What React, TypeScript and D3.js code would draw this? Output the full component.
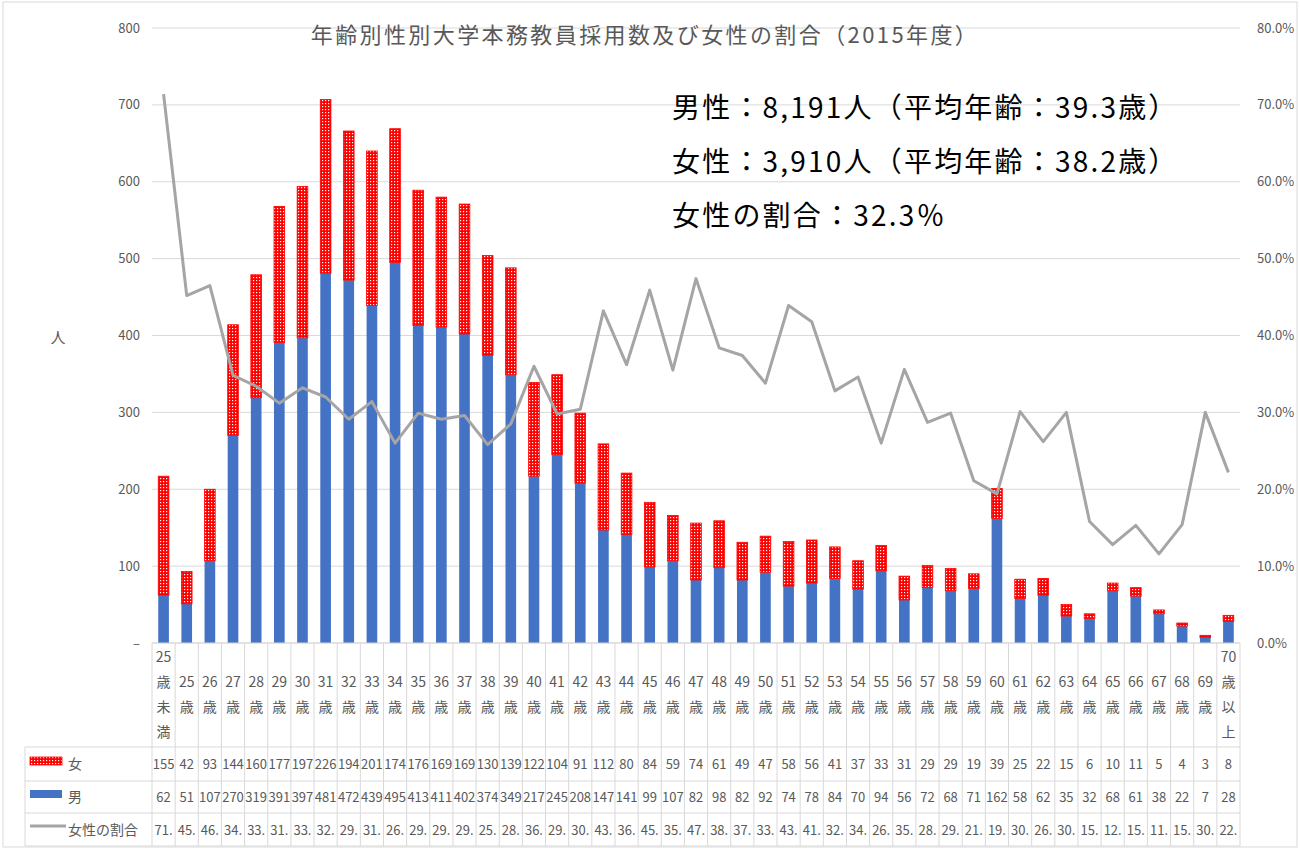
import * as d3 from "d3";
import React from "react";

// 年齢区分
const ages = [
  "25歳未満", "25歳", "26歳", "27歳", "28歳", "29歳", "30歳", "31歳", "32歳", "33歳",
  "34歳", "35歳", "36歳", "37歳", "38歳", "39歳", "40歳", "41歳", "42歳", "43歳",
  "44歳", "45歳", "46歳", "47歳", "48歳", "49歳", "50歳", "51歳", "52歳", "53歳",
  "54歳", "55歳", "56歳", "57歳", "58歳", "59歳", "60歳", "61歳", "62歳", "63歳",
  "64歳", "65歳", "66歳", "67歳", "68歳", "69歳", "70歳以上",
];

const female = [
  155, 42, 93, 144, 160, 177, 197, 226, 194, 201, 174, 176, 169, 169, 130, 139, 122,
  104, 91, 112, 80, 84, 59, 74, 61, 49, 47, 58, 56, 41, 37, 33, 31, 29, 29, 19, 39,
  25, 22, 15, 6, 10, 11, 5, 4, 3, 8,
];

const male = [
  62, 51, 107, 270, 319, 391, 397, 481, 472, 439, 495, 413, 411, 402, 374, 349, 217,
  245, 208, 147, 141, 99, 107, 82, 98, 82, 92, 74, 78, 84, 70, 94, 56, 72, 68, 71,
  162, 58, 62, 35, 32, 68, 61, 38, 22, 7, 28,
];

// 女性の割合 (%)
const femaleRatio = [
  71.4, 45.2, 46.5, 34.8, 33.4, 31.2, 33.2, 32.0, 29.1, 31.4, 26.0, 29.9, 29.1, 29.6,
  25.8, 28.5, 36.0, 29.8, 30.4, 43.2, 36.2, 45.9, 35.5, 47.4, 38.4, 37.4, 33.8, 43.9,
  41.8, 32.8, 34.6, 26.0, 35.6, 28.7, 29.9, 21.1, 19.4, 30.1, 26.2, 30.0, 15.8, 12.8,
  15.3, 11.6, 15.4, 30.0, 22.2,
];

const leftTicks = [0, 100, 200, 300, 400, 500, 600, 700, 800];
const rightTicks = [0, 0.1, 0.2, 0.3, 0.4, 0.5, 0.6, 0.7, 0.8];

const title = "年齢別性別大学本務教員採用数及び女性の割合（2015年度）";
const notes = [
  "男性：8,191人（平均年齢：39.3歳）",
  "女性：3,910人（平均年齢：38.2歳）",
  "女性の割合：32.3％",
];

const W = 1300;
const H = 852;
const font = "'Noto Sans CJK JP', 'Noto Sans', sans-serif";
const gray = "#595959";
const grid = "#D9D9D9";
const blue = "#4472C4";
const lineGray = "#A5A5A5";

// 区分ラベルを縦書き風に分割
const splitLabel = (s: string): string[] => {
  const m = s.match(/^(\d+)(.*)$/);
  if (!m) return [s];
  return [m[1], ...m[2].split("")];
};

const App: React.FC = () => {
  const x = d3.scaleBand<string>().domain(ages).range([152, 1240]);
  const y = d3.scaleLinear().domain([0, 800]).range([643, 28]);
  const y2 = d3.scaleLinear().domain([0, 0.8]).range([643, 28]);
  const step = x.step();
  const barW = step * 0.46;
  const cx = (a: string) => x(a)! + step / 2;

  const line = d3
    .line<number>()
    .x((_, i) => cx(ages[i]))
    .y((d) => y2(d / 100));

  const rowTop = [747, 781, 813, 846];
  const rowMid = [764, 797, 830];
  const pct = d3.format(".1%");

  return (
    <svg
      width={W}
      height={H}
      style={{ position: "absolute", left: 0, top: 0, background: "#fff" }}
      fontFamily={font}
    >
      <defs>
        <pattern id="redDots" width="3" height="3" patternUnits="userSpaceOnUse">
          <rect width="3" height="3" fill="#FF0000" />
          <rect x="1" y="1" width="1.2" height="1.2" fill="#FFFFFF" />
        </pattern>
      </defs>
      <rect x={0} y={0} width={W} height={H} fill="#fff" />
      <rect x={3} y={2} width={1294} height={845} fill="none" stroke={grid} />

      {/* グリッド線 */}
      {leftTicks.map((t) => (
        <line key={t} x1={152} x2={1240} y1={y(t)} y2={y(t)} stroke={grid} strokeWidth={1} />
      ))}

      {/* 左軸 */}
      {leftTicks.map((t) => (
        <text key={t} x={140} y={y(t)} dy="0.35em" textAnchor="end" fontSize={13} fill={gray}>
          {t === 0 ? "–" : t}
        </text>
      ))}
      <text x={58} y={338} dy="0.35em" textAnchor="middle" fontSize={15} fill={gray}>
        人
      </text>

      {/* 右軸 */}
      {rightTicks.map((t) => (
        <text key={t} x={1257} y={y2(t)} dy="0.35em" textAnchor="start" fontSize={13} fill={gray}>
          {pct(t)}
        </text>
      ))}

      {/* 男 */}
      {ages.map((a, i) => (
        <rect key={a} x={cx(a) - barW / 2} y={y(male[i])} width={barW} height={y(0) - y(male[i])} fill={blue} />
      ))}
      {/* 女 */}
      {ages.map((a, i) => (
        <rect
          key={a}
          x={cx(a) - barW / 2}
          y={y(male[i] + female[i])}
          width={barW}
          height={y(male[i]) - y(male[i] + female[i])}
          fill="url(#redDots)"
          stroke="#FF0000"
          strokeWidth={0.8}
        />
      ))}

      {/* 女性の割合 */}
      <path d={line(femaleRatio)!} fill="none" stroke={lineGray} strokeWidth={3} strokeLinejoin="round" />

      {/* タイトル */}
      <text x={645} y={35} dy="0.35em" textAnchor="middle" fontSize={22} letterSpacing={2.4} fill={gray}>
        {title}
      </text>
      {notes.map((n, i) => (
        <text key={n} x={672} y={108 + i * 54} dy="0.35em" fontSize={28} letterSpacing={2.2} fill="#000">
          {n}
        </text>
      ))}

      {/* データテーブル */}
      <line x1={152} x2={1240} y1={643} y2={643} stroke={grid} />
      {rowTop.map((ry) => (
        <line key={ry} x1={25} x2={1240} y1={ry} y2={ry} stroke={grid} />
      ))}
      <line x1={25} x2={25} y1={747} y2={846} stroke={grid} />
      {ages.map((a) => (
        <line key={a} x1={x(a)!} x2={x(a)!} y1={643} y2={846} stroke={grid} />
      ))}
      <line x1={1240} x2={1240} y1={643} y2={846} stroke={grid} />

      {ages.map((a) => {
        const parts = splitLabel(a);
        const top = 695 - ((parts.length - 1) * 25) / 2;
        return (
          <text key={a} textAnchor="middle" fontSize={14} fill={gray}>
            {parts.map((p, j) => (
              <tspan key={j} x={cx(a)} y={top + j * 25} dy="0.35em">
                {p}
              </tspan>
            ))}
          </text>
        );
      })}

      {/* 凡例 */}
      <rect x={30} y={757} width={32} height={8} fill="url(#redDots)" stroke="#FF0000" strokeWidth={0.8} />
      <text x={68} y={rowMid[0]} dy="0.35em" fontSize={14} fill={gray}>女</text>
      <rect x={30} y={790} width={32} height={8} fill={blue} />
      <text x={68} y={rowMid[1]} dy="0.35em" fontSize={14} fill={gray}>男</text>
      <line x1={30} x2={66} y1={826} y2={826} stroke={lineGray} strokeWidth={3} />
      <text x={68} y={rowMid[2]} dy="0.35em" fontSize={14} fill={gray}>女性の割合</text>

      {ages.map((a, i) => (
        <g key={a} fontSize={13} fill={gray} textAnchor="middle">
          <text x={cx(a)} y={rowMid[0]} dy="0.35em">{female[i]}</text>
          <text x={cx(a)} y={rowMid[1]} dy="0.35em">{male[i]}</text>
          <text x={cx(a)} y={rowMid[2]} dy="0.35em">{`${Math.trunc(femaleRatio[i])}.`}</text>
        </g>
      ))}
    </svg>
  );
};

export default App;
